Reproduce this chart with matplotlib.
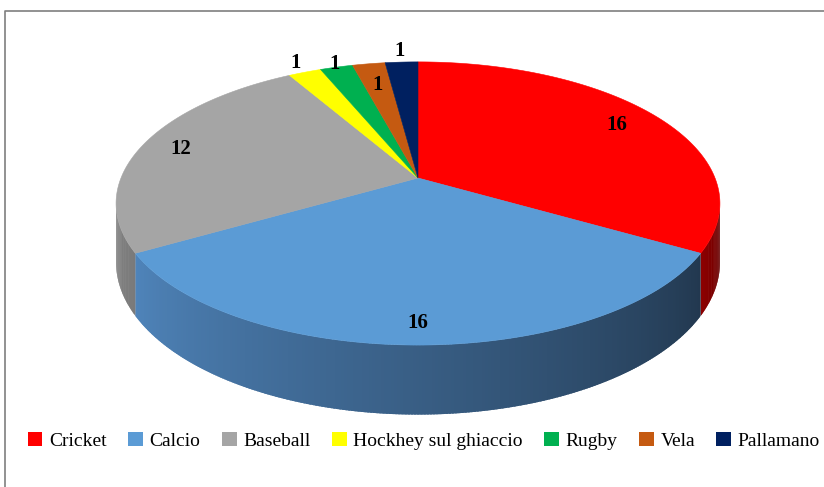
import numpy as np
import matplotlib.pyplot as plt
from matplotlib.patches import Polygon, Patch
from matplotlib.lines import Line2D
from matplotlib.colors import to_rgb

# dati del grafico
categorie = ['Cricket', 'Calcio', 'Baseball', 'Hockhey sul ghiaccio', 'Rugby', 'Vela', 'Pallamano']
valori = [16, 16, 12, 1, 1, 1, 1]
colori = ['#FF0000', '#5B9BD5', '#A5A5A5', '#FFFF00', '#00B050', '#C55A11', '#002060']
# colori del bordo laterale (inizio, fine) per ogni fetta
colori_lato = [('#8E0000', '#5E0000'), ('#4F84BA', '#22384F'), ('#858585', '#7A7A7A'),
               ('#B3B300', '#B3B300'), ('#007A38', '#007A38'), ('#8A3F0C', '#8A3F0C'),
               ('#001640', '#001640')]
# posizione etichette: fattore radiale
raggio_etichette = [0.83, 0.89, 0.86, 1.10, 1.03, 0.79, 1.12]

plt.rcParams['font.family'] = ['Liberation Serif', 'DejaVu Serif']

fig = plt.figure(figsize=(8.24, 4.87), dpi=100)
ax = fig.add_axes([0, 0, 1, 1])
ax.set_xlim(0, 824)
ax.set_ylim(487, 0)
ax.axis('off')

# proiezione prospettica del disco
cx, cy = 418, 178
A, B, D, k = 297, 137, 57, 0.18


def proietta(theta, r=1.0, z=0.0):
    t = np.radians(theta)
    u = r * np.cos(t)
    v = r * np.sin(t)
    s = 1.0 / (1.0 + k * v)
    return cx + A * u * s, cy + (-B * v + D * z) * s


# angoli delle fette (in senso orario partendo dall'alto)
totale = sum(valori)
fine = 90.0
angoli = []
for v in valori:
    inizio = fine - 360.0 * v / totale
    angoli.append((inizio, fine))
    fine = inizio

# lati visibili, con sfumatura a strisce sovrapposte
lim_vis = (-180 + np.degrees(np.arcsin(k)), -np.degrees(np.arcsin(k)))
for (a1, a2), (c1, c2) in zip(angoli, colori_lato):
    lo, hi = max(a1, lim_vis[0]), min(a2, lim_vis[1])
    if lo >= hi:
        continue
    passi = np.linspace(hi, lo, max(2, int((hi - lo) / 0.5)))
    c1, c2 = np.array(to_rgb(c1)), np.array(to_rgb(c2))
    for i in range(len(passi) - 1):
        t0 = passi[i]
        t1 = max(passi[i + 1] - 0.4, lo) if i < len(passi) - 2 else passi[i + 1]
        th = np.linspace(t0, t1, 4)
        xt, yt = proietta(th)
        xb, yb = proietta(th[::-1], z=1)
        f = ((hi - (passi[i] + passi[i + 1]) / 2) / (hi - lo))
        col = c2 * (1 - f) + c1 * f
        ax.add_patch(Polygon(list(zip(xt, yt)) + list(zip(xb, yb)),
                             closed=True, facecolor=col, edgecolor='none'))

# facce superiori
for (a1, a2), col in zip(angoli, colori):
    th = np.linspace(a2, a1, 200)
    xs, ys = proietta(th)
    pts = [(cx, cy)] + list(zip(xs, ys))
    ax.add_patch(Polygon(pts, closed=True, facecolor=col, edgecolor=col, lw=0.4))

# etichette dati
for (a1, a2), val, r in zip(angoli, valori, raggio_etichette):
    x, y = proietta((a1 + a2) / 2, r)
    ax.text(x, y, str(val), ha='center', va='center', fontsize=15, fontweight='bold')

# bordo esterno (solo in alto e a sinistra, il resto esce dall'immagine)
ax.add_line(Line2D([5, 5, 830], [495, 11, 11], color='#7F7F7F', lw=1.2, clip_on=False))

# legenda
maniglie = [Patch(facecolor=c, edgecolor='none') for c in colori]
fig.legend(maniglie, categorie, loc='center', bbox_to_anchor=(424 / 824, 1 - 441 / 487),
           ncol=7, frameon=False, fontsize=14, handlelength=0.75, handleheight=0.75,
           handletextpad=0.35, columnspacing=1.1)

plt.savefig('out.png', dpi=100)
